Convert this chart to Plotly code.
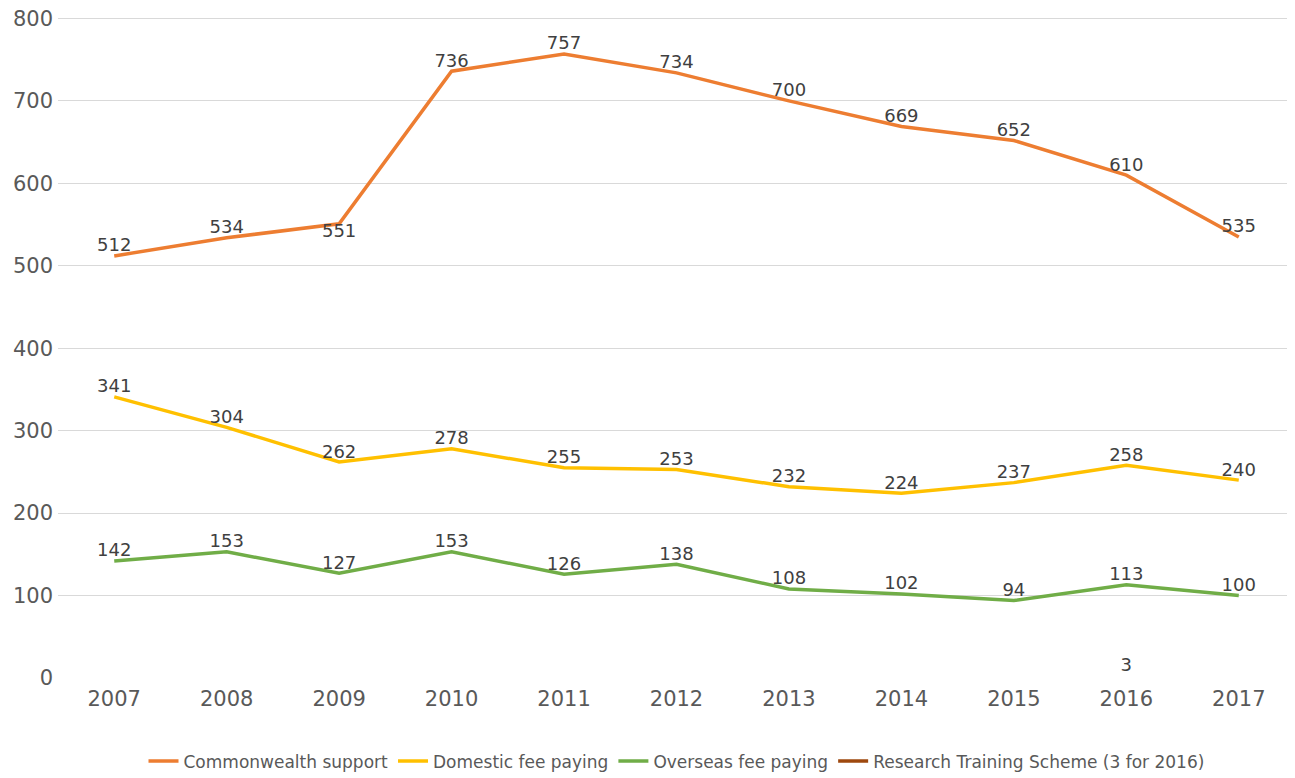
import plotly.graph_objects as go

years = ["2007", "2008", "2009", "2010", "2011", "2012", "2013", "2014", "2015", "2016", "2017"]
commonwealth = [512, 534, 551, 736, 757, 734, 700, 669, 652, 610, 535]
domestic = [341, 304, 262, 278, 255, 253, 232, 224, 237, 258, 240]
overseas = [142, 153, 127, 153, 126, 138, 108, 102, 94, 113, 100]
rts_years = ["2016"]
rts = [3]
y_ticks = [0, 100, 200, 300, 400, 500, 600, 700, 800]

series = [
    ("Commonwealth support", years, commonwealth, "#ED7D31"),
    ("Domestic fee paying", years, domestic, "#FFC000"),
    ("Overseas fee paying", years, overseas, "#70AD47"),
    ("Research Training Scheme (3 for 2016)", rts_years, rts, "#9E480E"),
]

FONT = "DejaVu Sans"

fig = go.Figure()
for name, xs, ys, color in series:
    positions = ["top center"] * len(ys)
    if name == "Commonwealth support":
        positions[2] = "bottom center"
    fig.add_trace(go.Scatter(
        x=xs, y=ys, name=name, mode="lines+text",
        text=[str(v) for v in ys], textposition=positions,
        textfont=dict(size=18, color="#404040", family=FONT),
        line=dict(color=color, width=3.5),
        hoverinfo="skip",
    ))

fig.update_layout(
    width=1295, height=778,
    margin=dict(l=50, r=8, t=8, b=108, autoexpand=False),
    plot_bgcolor="white", paper_bgcolor="white",
    font=dict(family=FONT, color="#595959"),
    showlegend=True,
    legend=dict(orientation="h", x=0.5, xanchor="center", y=-0.126, yanchor="middle",
                font=dict(size=17, color="#595959", family=FONT), itemwidth=30,
                traceorder="normal"),
    xaxis=dict(type="category", categoryorder="array", categoryarray=years,
               range=[-0.5, 10.5], showgrid=False, zeroline=False, showline=False,
               tickfont=dict(size=21, color="#595959", family=FONT), ticks="", ticklabelstandoff=6),
    yaxis=dict(range=[0, 803], tickmode="array", tickvals=y_ticks,
               showgrid=True, gridcolor="#D9D9D9", gridwidth=1,
               zeroline=False, showline=False, ticklabeloverflow="allow",
               tickfont=dict(size=21, color="#595959", family=FONT), ticks="", ticklabelstandoff=4),
)

fig.write_html("out.html")
